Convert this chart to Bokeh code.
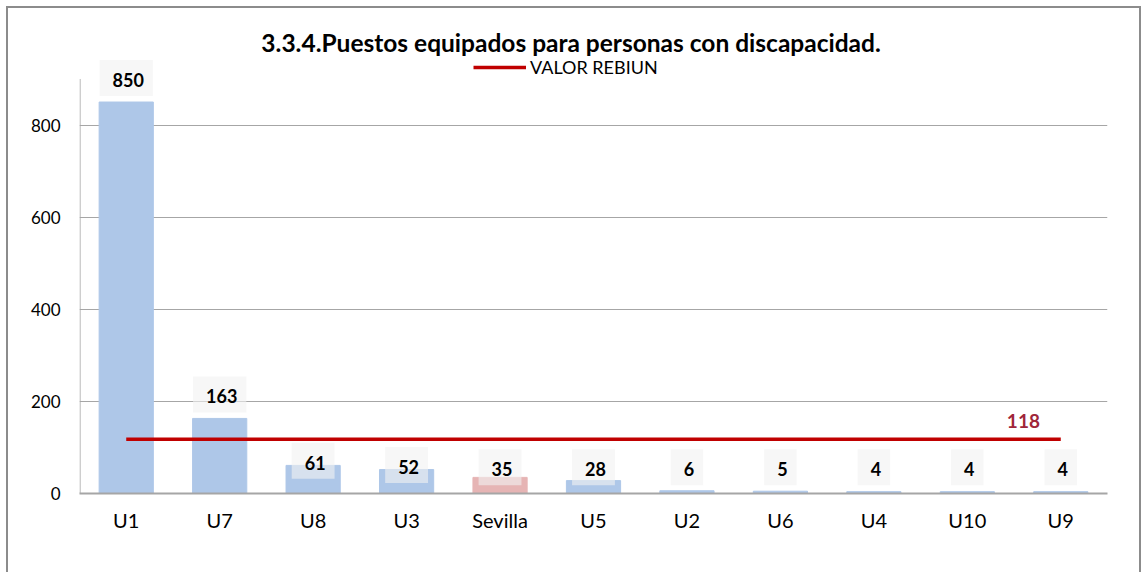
from bokeh.plotting import figure
from bokeh.models import Label, Legend, LegendItem, FactorRange, Range1d, ColumnDataSource
from bokeh.core.properties import value
from bokeh.embed import file_html
from bokeh.resources import INLINE

categories = ["U1", "U7", "U8", "U3", "Sevilla", "U5", "U2", "U6", "U4", "U10", "U9"]
values = [850, 163, 61, 52, 35, 28, 6, 5, 4, 4, 4]
highlight = "Sevilla"
ref_value = 118
ref_label = "VALOR REBIUN"
title_text = "3.3.4.Puestos equipados para personas con discapacidad."
y_ticks = [0, 200, 400, 600, 800]
axis_top = 900

FONT = "Lato"
BLUE = "#AEC7E8"
PINK = "#E6B4B4"
RED = "#C00000"
GRAY = "#A6A6A6"

colors = [PINK if c == highlight else BLUE for c in categories]
label_y = [v + 52 if v > 100 else max(v + 10, 57) for v in values]

src = ColumnDataSource(dict(cat=categories, val=values, color=colors,
                            ly=label_y, txt=[str(v) for v in values]))

p = figure(x_range=FactorRange(*categories), y_range=Range1d(0, 1027),
           width=1135, height=566, output_backend="svg", toolbar_location=None,
           min_border_left=71, min_border_right=36, min_border_top=12, min_border_bottom=81)
p.styles = {"border-left": "2px solid #8c8c8c", "border-top": "2px solid #8c8c8c",
            "border-right": "2px solid #8c8c8c", "box-sizing": "border-box",
            "margin-left": "6px", "margin-top": "6px"}

p.vbar(x="cat", top="val", width=0.58, color="color", source=src)

# y-axis line drawn up to the top tick region only
p.segment(x0=[0.006], x1=[0.006], y0=[0], y1=[axis_top], line_color=GRAY, line_width=1)

line_r = p.line(x=categories, y=[ref_value] * len(categories), line_color=RED,
                line_width=3.5)

p.text(x="cat", y="ly", text="txt", source=src, text_align="center",
       text_baseline="middle", text_font=value(FONT), text_font_style="bold",
       text_font_size="18px", text_color="black",
       background_fill_color="#F2F2F2", background_fill_alpha=0.6,
       padding=(13, 9, 13, 9))

p.add_layout(Label(x=10.1, y=ref_value + 39, text=str(ref_value), text_align="center",
                   text_baseline="middle", text_font=FONT, text_font_style="bold",
                   text_font_size="19px", text_color="#A0263A"))

p.add_layout(Label(x=5.26, y=979, text=title_text, text_align="center",
                   text_baseline="middle", text_font=FONT, text_font_style="bold",
                   text_font_size="24.5px", text_color="black"))

legend = Legend(items=[LegendItem(label=ref_label, renderers=[line_r])],
                location=(394, 415), orientation="horizontal",
                background_fill_alpha=0, border_line_alpha=0, padding=0, margin=0,
                glyph_width=53, glyph_height=18, label_height=18, label_standoff=4,
                label_text_font=FONT, label_text_font_size="18px", label_text_color="black")
p.add_layout(legend, "center")

p.xgrid.grid_line_color = None
p.ygrid.grid_line_color = GRAY
p.ygrid.grid_line_width = 1
p.yaxis.ticker = y_ticks
p.yaxis.axis_line_color = None
p.yaxis.major_tick_line_color = None
p.yaxis.major_tick_out = 0
p.yaxis.major_tick_in = 0
p.yaxis.minor_tick_line_color = None
p.yaxis.major_label_standoff = 19
p.xaxis.axis_line_color = GRAY
p.xaxis.axis_line_width = 2
p.xaxis.major_tick_line_color = None
p.xaxis.minor_tick_line_color = None
p.xaxis.major_label_standoff = 8
for ax in (p.xaxis, p.yaxis):
    ax.major_label_text_font = FONT
    ax.major_label_text_color = "black"
p.xaxis.major_label_text_font_size = "20px"
p.yaxis.major_label_text_font_size = "17px"
p.outline_line_color = None

open("out.html", "w").write(file_html(p, INLINE))
